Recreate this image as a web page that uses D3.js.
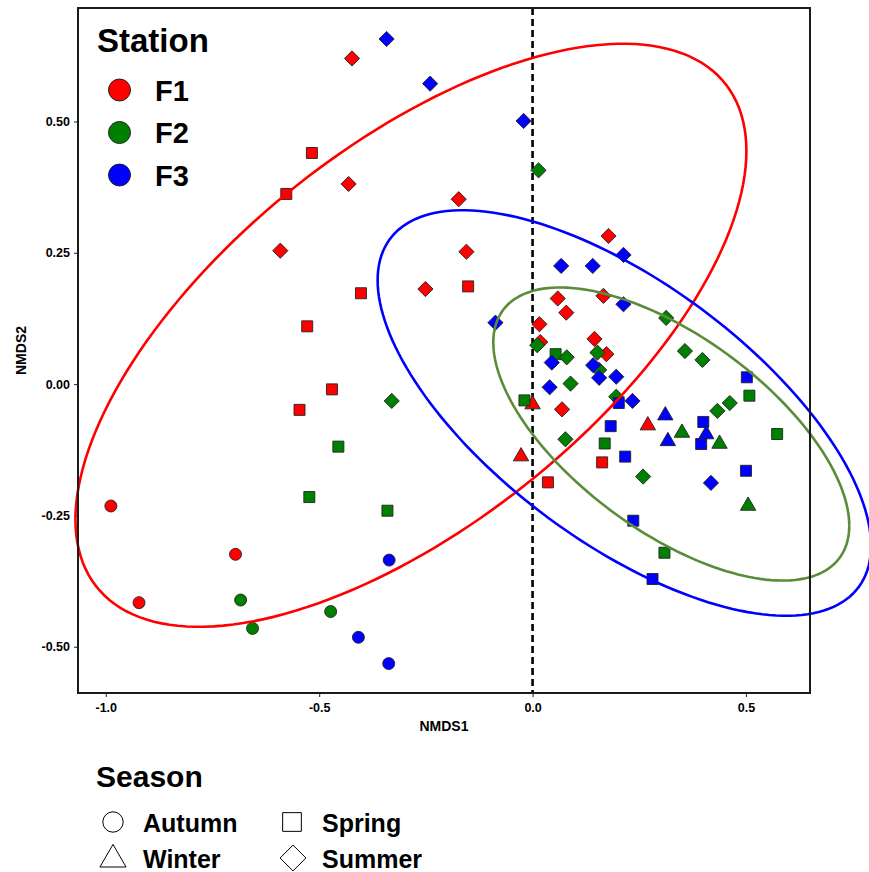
<!DOCTYPE html>
<html><head><meta charset="utf-8">
<script src="https://cdn.jsdelivr.net/npm/d3@7"></script>
<style>
body{margin:0;background:#fff}
svg{display:block}
text{font-family:"Liberation Sans",Arial,Helvetica,sans-serif;font-weight:bold;fill:#000}
</style>
</head><body>
<svg id="chart" width="869" height="872"></svg>
<script>
// ---------- data ----------
const stations = ["F1", "F2", "F3"];
const seasons = ["Autumn", "Spring", "Winter", "Summer"];
const stationColors = ["#FF0000", "#008000", "#0000FF"];
const ellipseColors = ["#FF0000", "#5B8C3A", "#0000FF"];
const xTicks = [-1.0, -0.5, 0.0, 0.5];
const yTicks = [-0.50, -0.25, 0.00, 0.25, 0.50];

// NMDS1, NMDS2 pairs per station & season
const F1_Autumn = [[-0.988,-0.232],[-0.922,-0.416],[-0.696,-0.324]];
const F1_Spring = [[-0.517,0.440],[-0.577,0.362],[-0.402,0.173],[-0.528,0.110],[-0.151,0.186],
                   [-0.470,-0.010],[-0.546,-0.049],[0.163,-0.149],[0.036,-0.187]];
const F1_Winter = [[-0.027,-0.136],[0.000,-0.037],[0.270,-0.077]];
const F1_Summer = [[-0.423,0.620],[-0.431,0.381],[-0.591,0.254],[-0.173,0.352],[-0.155,0.252],
                   [-0.251,0.181],[0.178,0.282],[0.059,0.163],[0.079,0.136],[0.166,0.168],
                   [0.016,0.114],[0.018,0.080],[0.145,0.086],[0.173,0.057],[0.069,-0.048]];
const F2_Autumn = [[-0.684,-0.411],[-0.656,-0.465],[-0.473,-0.433]];
const F2_Spring = [[-0.455,-0.119],[-0.523,-0.215],[-0.340,-0.241],[0.054,0.057],[-0.019,-0.031],
                   [0.169,-0.113],[0.508,-0.022],[0.573,-0.095],[0.309,-0.321]];
const F2_Winter = [[0.350,-0.091],[0.438,-0.112],[0.505,-0.230]];
const F2_Summer = [[-0.330,-0.032],[0.014,0.407],[0.011,0.074],[0.080,0.051],[0.152,0.060],
                   [0.156,0.027],[0.089,0.001],[0.196,-0.024],[0.077,-0.105],[0.259,-0.176],
                   [0.313,0.126],[0.357,0.063],[0.398,0.046],[0.433,-0.051],[0.462,-0.036]];
const F3_Autumn = [[-0.336,-0.335],[-0.408,-0.482],[-0.337,-0.532]];
const F3_Spring = [[0.502,0.013],[0.202,-0.036],[0.183,-0.080],[0.400,-0.072],[0.395,-0.114],
                   [0.217,-0.138],[0.500,-0.165],[0.236,-0.260],[0.281,-0.371]];
const F3_Winter = [[0.311,-0.058],[0.317,-0.107],[0.407,-0.094]];
const F3_Summer = [[-0.342,0.657],[-0.240,0.572],[-0.021,0.501],[0.067,0.225],[0.141,0.225],
                   [0.213,0.246],[0.213,0.152],[-0.087,0.117],[0.045,0.041],[0.142,0.036],
                   [0.156,0.012],[0.196,0.014],[0.040,-0.006],[0.234,-0.032],[0.418,-0.188]];

// 95% confidence ellipses per station (NMDS units): centre, half-extents, correlation
const ellipseCenterX = [-0.285, 0.325, 0.215];
const ellipseCenterY = [0.093, -0.095, -0.055];
const ellipseHalfX   = [0.786, 0.417, 0.578];
const ellipseHalfY   = [0.555, 0.279, 0.386];
const ellipseRho     = [0.632, -0.625, -0.655];

const groups = {
  F1: {Autumn: F1_Autumn, Spring: F1_Spring, Winter: F1_Winter, Summer: F1_Summer},
  F2: {Autumn: F2_Autumn, Spring: F2_Spring, Winter: F2_Winter, Summer: F2_Summer},
  F3: {Autumn: F3_Autumn, Spring: F3_Spring, Winter: F3_Winter, Summer: F3_Summer}
};

const samples = [];
stations.forEach(st => seasons.forEach(se => groups[st][se].forEach(p =>
  samples.push({station: st, season: se, x: p[0], y: p[1]}))));

// ---------- layout ----------
const svg = d3.select("#chart");
const panel = {left: 78, right: 810, top: 8, bottom: 693};
const x = d3.scaleLinear().domain([-1.065, 0.65]).range([panel.left, panel.right]);
const y = d3.scaleLinear().domain([-0.588, 0.716]).range([panel.bottom, panel.top]);
const color = d3.scaleOrdinal().domain(stations).range(stationColors);
const ecolor = d3.scaleOrdinal().domain(stations).range(ellipseColors);
const hyphen = f => v => d3.format(f)(v).replace("\u2212", "-");

function shapePath(season, s) {
  const k = s || 1;
  if (season === "Autumn") { const r = 6*k; return `M${r},0A${r},${r} 0 1,1 ${-r},0A${r},${r} 0 1,1 ${r},0Z`; }
  if (season === "Spring") { const h = 5.5*k; return `M${-h},${-h}H${h}V${h}H${-h}Z`; }
  if (season === "Winter") { const w = 7.7*k, hu = 8*k, hd = 5.3*k; return `M0,${-hu}L${w},${hd}L${-w},${hd}Z`; }
  const d = 7.6*k; return `M0,${-d}L${d},0L0,${d}L${-d},0Z`;
}

// ---------- axes ----------
const gx = svg.append("g").attr("transform", `translate(0,${panel.bottom})`)
  .call(d3.axisBottom(x).tickValues(xTicks).tickFormat(hyphen(".1f")).tickSize(4).tickPadding(6));
const gy = svg.append("g").attr("transform", `translate(${panel.left},0)`)
  .call(d3.axisLeft(y).tickValues(yTicks).tickFormat(hyphen(".2f")).tickSize(4).tickPadding(4));
[gx, gy].forEach(g => {
  g.select(".domain").remove();
  g.selectAll(".tick line").attr("stroke", "#333").attr("stroke-width", 1.1);
  g.selectAll(".tick text").style("font-size", "12.5px").style("font-weight", "bold").attr("fill", "#000");
});

svg.append("text").attr("x", (panel.left + panel.right) / 2).attr("y", 731)
  .attr("text-anchor", "middle").style("font-size", "14px").text("NMDS1");
svg.append("text").attr("transform", `translate(26,${(panel.top + panel.bottom) / 2}) rotate(-90)`)
  .attr("text-anchor", "middle").style("font-size", "14px").text("NMDS2");

// ---------- dashed zero line ----------
svg.append("line").attr("x1", x(0)).attr("x2", x(0)).attr("y1", panel.top).attr("y2", panel.bottom)
  .attr("stroke", "#000").attr("stroke-width", 2.6).attr("stroke-dasharray", "7,4");

// ---------- points ----------
svg.append("g").selectAll("path").data(samples).join("path")
  .attr("transform", d => `translate(${x(d.x)},${y(d.y)})`)
  .attr("d", d => shapePath(d.season))
  .attr("fill", d => color(d.station))
  .attr("stroke", "#222").attr("stroke-width", 0.9);

// ---------- ellipses ----------
const line = d3.line().x(d => x(d[0])).y(d => y(d[1]));
stations.forEach((st, i) => {
  const cx = ellipseCenterX[i], cy = ellipseCenterY[i];
  const sx = ellipseHalfX[i], sy = ellipseHalfY[i], rho = ellipseRho[i];
  const pts = d3.range(181).map(k => {
    const t = k * 2 * Math.PI / 180;
    return [cx + sx * Math.cos(t), cy + sy * (rho * Math.cos(t) + Math.sqrt(1 - rho*rho) * Math.sin(t))];
  });
  svg.append("path").attr("d", line(pts))
    .attr("fill", "none").attr("stroke", ecolor(st)).attr("stroke-width", 2.6);
});

// ---------- panel border ----------
svg.append("rect").attr("x", panel.left).attr("y", panel.top)
  .attr("width", panel.right - panel.left).attr("height", panel.bottom - panel.top)
  .attr("fill", "none").attr("stroke", "#1a1a1a").attr("stroke-width", 2);

// ---------- Station legend ----------
const sl = svg.append("g");
sl.append("text").attr("x", 97).attr("y", 52).style("font-size", "33px").text("Station");
stations.forEach((st, i) => {
  const cy = 90 + i * 42.5;
  sl.append("circle").attr("cx", 119.5).attr("cy", cy).attr("r", 11)
    .attr("fill", color(st)).attr("stroke", "#222").attr("stroke-width", 1);
  sl.append("text").attr("x", 155).attr("y", cy + 10.5).style("font-size", "29px").text(st);
});

// ---------- Season legend ----------
const ll = svg.append("g");
ll.append("text").attr("x", 96).attr("y", 787).style("font-size", "30px").text("Season");
const legItems = [
  {s: "Autumn", cx: 113, cy: 822, tx: 143},
  {s: "Spring", cx: 292, cy: 822, tx: 322},
  {s: "Winter", cx: 113, cy: 858, tx: 143},
  {s: "Summer", cx: 293, cy: 858, tx: 322}
];
legItems.forEach(it => {
  ll.append("path").attr("transform", `translate(${it.cx},${it.cy})`)
    .attr("d", shapePath(it.s, 1.7)).attr("fill", "none").attr("stroke", "#000").attr("stroke-width", 1);
  ll.append("text").attr("x", it.tx).attr("y", it.cy + 9.5).style("font-size", "25px").text(it.s);
});
</script>
</body></html>
